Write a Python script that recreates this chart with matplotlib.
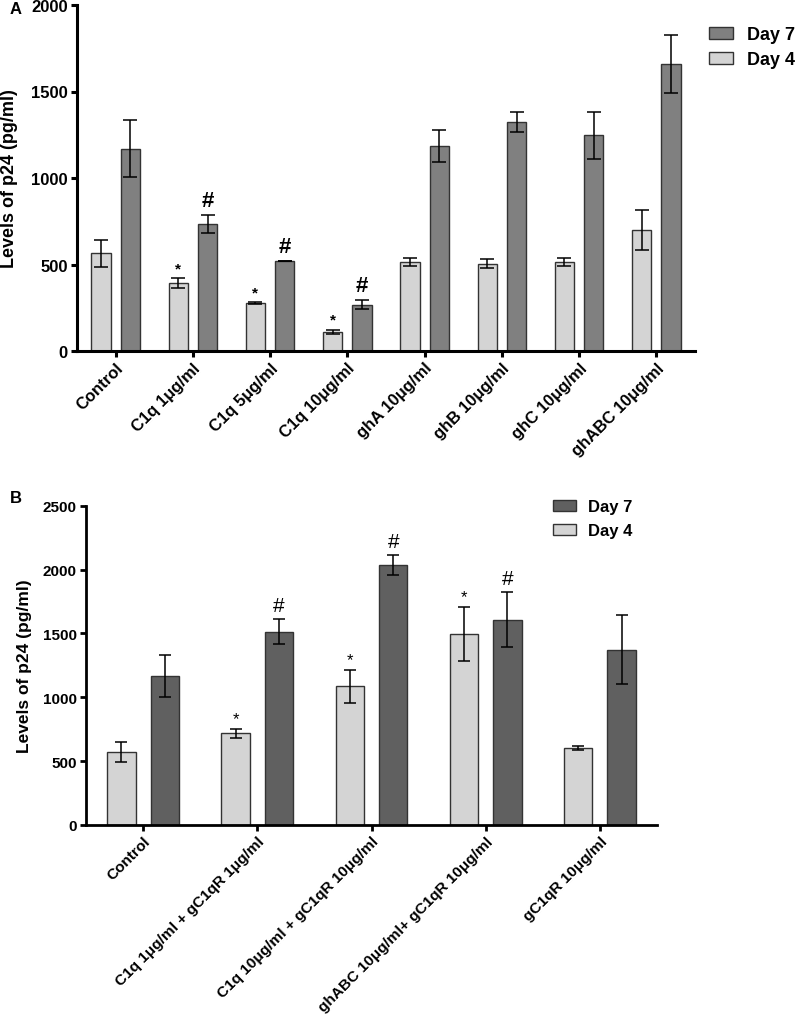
import numpy as np
import matplotlib
matplotlib.use("Agg")
import matplotlib.pyplot as plt

plt.rcParams['font.family'] = ['Liberation Sans', 'DejaVu Sans']
plt.rcParams['font.weight'] = 'bold'

# panel A data
groups_a = ['Control', 'C1q 1μg/ml', 'C1q 5μg/ml', 'C1q 10μg/ml',
            'ghA 10μg/ml', 'ghB 10μg/ml', 'ghC 10μg/ml', 'ghABC 10μg/ml']
day4_a = [565, 393, 279, 112, 516, 503, 514, 699]
day4_a_err = [78, 28, 5, 12, 23, 26, 25, 115]
day7_a = [1168, 734, 520, 266, 1187, 1322, 1246, 1657]
day7_a_err = [165, 50, 2, 26, 93, 57, 134, 168]
star_a = [1, 2, 3]
hash_a = [1, 2, 3]

# panel B data
groups_b = ['Control', 'C1q 1μg/ml + gC1qR 1μg/ml', 'C1q 10μg/ml + gC1qR 10μg/ml',
            'ghABC 10μg/ml+ gC1qR 10μg/ml', 'gC1qR 10μg/ml']
day4_b = [569, 718, 1086, 1493, 603]
day4_b_err = [78, 35, 128, 211, 14]
day7_b = [1169, 1514, 2036, 1608, 1373]
day7_b_err = [165, 95, 76, 216, 268]
star_b = [1, 2, 3]
hash_b = [1, 2, 3]

light = '#d4d4d4'
edge = '#333333'
W, H = 797, 1020
fig = plt.figure(figsize=(W / 100, H / 100), dpi=100)


def make_panel(rect, groups, d4, d4e, d7, d7e, stars, hashes, dark, ymax, step,
               tick_fs, xlab_fs, ylab_fs, cap, sym_w, hash_fs, star_fs,
               leg_anchor, leg_fs, leg_space, lw):
    ax = fig.add_axes(rect)
    x = np.arange(len(groups))
    off, bw = 0.19, 0.25
    ax.bar(x - off, d4, bw, color=light, edgecolor=edge, linewidth=1.0, zorder=2, label='Day 4')
    ax.bar(x + off, d7, bw, color=dark, edgecolor=edge, linewidth=1.0, zorder=2, label='Day 7')
    ax.errorbar(x - off, d4, yerr=d4e, fmt='none', ecolor='black', elinewidth=1.1,
                capsize=cap, capthick=1.1, zorder=3)
    ax.errorbar(x + off, d7, yerr=d7e, fmt='none', ecolor='black', elinewidth=1.1,
                capsize=cap, capthick=1.1, zorder=3)
    for i in stars:
        ax.annotate('*', (x[i] - off, d4[i] + d4e[i]), xytext=(0, 2), textcoords='offset points',
                    ha='center', va='bottom', fontsize=star_fs, fontweight=sym_w)
    for i in hashes:
        ax.annotate('#', (x[i] + off, d7[i] + d7e[i]), xytext=(0, 3), textcoords='offset points',
                    ha='center', va='bottom', fontsize=hash_fs, fontweight=sym_w)
    ax.set_xlim(-0.5, len(groups) - 0.5)
    ax.set_ylim(0, ymax)
    ax.set_yticks(np.arange(0, ymax + 1, step))
    ax.set_xticks(x)
    ax.set_xticklabels(groups, rotation=45, ha='right', va='top', rotation_mode='anchor',
                       fontsize=xlab_fs, fontweight='bold')
    for t in ax.get_yticklabels():
        t.set_fontsize(tick_fs)
        t.set_fontweight('bold')
    ax.set_ylabel('Levels of p24 (pg/ml)', fontsize=ylab_fs, fontweight='bold')
    for s in ['top', 'right']:
        ax.spines[s].set_visible(False)
    for s in ['left', 'bottom']:
        ax.spines[s].set_linewidth(lw)
    ax.tick_params(axis='both', direction='out', width=lw, length=4.5, pad=2)
    h, l = ax.get_legend_handles_labels()
    ax.legend(h[::-1], l[::-1], loc='upper left', bbox_to_anchor=leg_anchor,
              bbox_transform=fig.transFigure, frameon=False,
              handlelength=1.35, handleheight=0.65, handletextpad=0.75, labelspacing=leg_space,
              borderaxespad=0, borderpad=0, prop={'weight': 'bold', 'size': leg_fs})
    return ax


ax_a = make_panel([77 / W, 1 - 352 / H, (695 - 77) / W, 346 / H], groups_a,
                  day4_a, day4_a_err, day7_a, day7_a_err, star_a, hash_a, '#808080',
                  2000, 500, 12, 12, 13, 5.2, 'bold', 16, 11,
                  (709 / W, 1 - 27 / H), 13, 0.45, 2.2)
ax_a.yaxis.set_label_coords(18 / W, 1 - 179 / H, transform=fig.transFigure)

ax_b = make_panel([86 / W, 1 - 826 / H, (657 - 86) / W, (826 - 506.7) / H], groups_b,
                  day4_b, day4_b_err, day7_b, day7_b_err, star_b, hash_b, '#606060',
                  2500, 500, 11, 11.1, 12.5, 4, 'normal', 15, 12,
                  (553 / W, 1 - 500 / H), 12, 0.55, 2.0)
ax_b.yaxis.set_label_coords(32 / W, 1 - 666 / H, transform=fig.transFigure)

fig.text(10 / W, 1 - 14 / H, 'A', fontsize=12, fontweight='bold')
fig.text(10 / W, 1 - 503 / H, 'B', fontsize=12, fontweight='bold')

fig.savefig('out.png', dpi=100)
